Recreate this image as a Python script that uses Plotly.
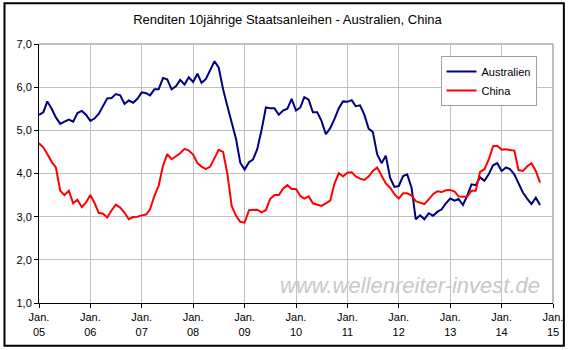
import pandas as pd
import plotly.graph_objects as go

australien = [
    5.36, 5.42, 5.67, 5.50, 5.30, 5.15, 5.20, 5.25, 5.20, 5.40, 5.45, 5.36,
    5.22, 5.28, 5.38, 5.57, 5.74, 5.75, 5.84, 5.81, 5.61, 5.69, 5.64, 5.73,
    5.88, 5.86, 5.81, 5.95, 5.95, 6.21, 6.18, 5.95, 6.02, 6.17, 6.06, 6.23,
    6.12, 6.31, 6.10, 6.19, 6.39, 6.60, 6.45, 5.95, 5.55, 5.15, 4.80, 4.25,
    4.09, 4.26, 4.32, 4.57, 5.00, 5.53, 5.51, 5.51, 5.36, 5.46, 5.50, 5.73,
    5.46, 5.53, 5.77, 5.71, 5.42, 5.42, 5.22, 4.91, 5.05, 5.26, 5.51, 5.67,
    5.66, 5.70, 5.56, 5.58, 5.37, 5.04, 4.96, 4.44, 4.24, 4.41, 3.90, 3.69,
    3.71, 3.94, 3.98, 3.67, 2.94, 3.03, 2.94, 3.08, 3.02, 3.11, 3.17, 3.31,
    3.42, 3.37, 3.41, 3.27, 3.48, 3.75, 3.73, 3.91, 3.83, 3.98, 4.19, 4.24,
    4.06, 4.14, 4.10, 3.98, 3.79, 3.56, 3.42, 3.29, 3.44, 3.27,
]
china = [
    4.70, 4.60, 4.45, 4.27, 4.14, 3.60, 3.50, 3.60, 3.31, 3.39, 3.22, 3.33,
    3.50, 3.31, 3.09, 3.07, 2.98, 3.15, 3.28, 3.21, 3.09, 2.94, 2.99, 3.00,
    3.03, 3.05, 3.17, 3.48, 3.71, 4.18, 4.45, 4.33, 4.40, 4.47, 4.57, 4.53,
    4.44, 4.24, 4.16, 4.10, 4.16, 4.37, 4.55, 4.50, 3.98, 3.25, 3.02, 2.88,
    2.86, 3.15, 3.16, 3.16, 3.10, 3.15, 3.41, 3.50, 3.50, 3.65, 3.73, 3.64,
    3.64, 3.48, 3.42, 3.47, 3.31, 3.28, 3.25, 3.31, 3.37, 3.76, 4.01, 3.93,
    4.02, 4.03, 3.93, 3.88, 3.85, 3.93, 4.06, 4.14, 3.96, 3.77, 3.67, 3.52,
    3.42, 3.54, 3.54, 3.49, 3.36, 3.32, 3.29, 3.40, 3.52, 3.59, 3.57, 3.61,
    3.62, 3.58, 3.47, 3.46, 3.46, 3.60, 3.60, 4.04, 4.10, 4.32, 4.63, 4.64,
    4.55, 4.56, 4.54, 4.53, 4.08, 4.06, 4.16, 4.24, 4.06, 3.79,
]
dates = pd.date_range(start="2005-01-01", periods=len(australien), freq="MS")

x_tickvals = [f"{y}-01-01" for y in range(2005, 2016)]
x_ticktext = [f"Jan.<br>{str(y)[2:]}" for y in range(2005, 2016)]
y_tickvals = [1, 2, 3, 4, 5, 6, 7]
y_ticktext = ["1,0", "2,0", "3,0", "4,0", "5,0", "6,0", "7,0"]

FONT = "Liberation Sans, Arial, sans-serif"

fig = go.Figure()
fig.add_trace(go.Scatter(x=dates, y=australien, mode="lines", name="Australien",
                         line=dict(color="#000080", width=2)))
fig.add_trace(go.Scatter(x=dates, y=china, mode="lines", name="China",
                         line=dict(color="#ff0000", width=2)))

fig.update_layout(
    width=575, height=350,
    margin=dict(l=39, r=15, t=44, b=46),
    paper_bgcolor="white", plot_bgcolor="white",
    font=dict(family=FONT, size=11, color="#000000"),
    title=dict(text="Renditen 10jährige Staatsanleihen - Australien, China",
               x=0.5, xanchor="center", y=1 - 19 / 350, yanchor="middle",
               font=dict(family=FONT, size=13, color="#000000")),
    showlegend=True,
    legend=dict(x=(446 - 39) / 521, y=(304 - 56) / 260, xanchor="left", yanchor="top",
                bgcolor="white", bordercolor="#a0a0a0", borderwidth=1,
                font=dict(family=FONT, size=11, color="#000000"),
                tracegroupgap=0, itemwidth=30),
    xaxis=dict(range=["2005-01-01", "2015-01-01"], tickmode="array",
               tickvals=x_tickvals, ticktext=x_ticktext,
               showgrid=True, gridcolor="#c0c0c0", gridwidth=1,
               showline=True, linecolor="#000000", linewidth=1,
               ticks="outside", ticklen=4, tickcolor="#000000",
               tickfont=dict(family=FONT, size=11, color="#000000"),
               zeroline=False),
    yaxis=dict(range=[1, 7], tickmode="array", tickvals=y_tickvals, ticktext=y_ticktext,
               showgrid=True, gridcolor="#c0c0c0", gridwidth=1,
               showline=True, linecolor="#000000", linewidth=1,
               ticks="outside", ticklen=4, tickcolor="#000000",
               tickfont=dict(family=FONT, size=11, color="#000000"),
               zeroline=False),
)

# gray top/right border of plot area
fig.add_shape(type="line", xref="paper", yref="paper", x0=0, x1=1, y0=1, y1=1,
              line=dict(color="#808080", width=1), layer="below")
fig.add_shape(type="line", xref="paper", yref="paper", x0=1, x1=1, y0=0, y1=1,
              line=dict(color="#808080", width=1), layer="below")
# outer chart border
fig.add_shape(type="rect", xref="paper", yref="paper",
              x0=(4 - 39) / 521, x1=(571 - 39) / 521,
              y0=(304 - 347) / 260, y1=(304 - 3) / 260,
              line=dict(color="#000000", width=2))

fig.add_annotation(text="<i>www.wellenreiter-invest.de</i>", xref="paper", yref="paper",
                   x=(549 - 39) / 521, y=(304 - 286) / 260, xanchor="right", yanchor="middle",
                   showarrow=False, font=dict(family=FONT, size=22, color="#c8c8c8"))

fig.write_html("out.html")
